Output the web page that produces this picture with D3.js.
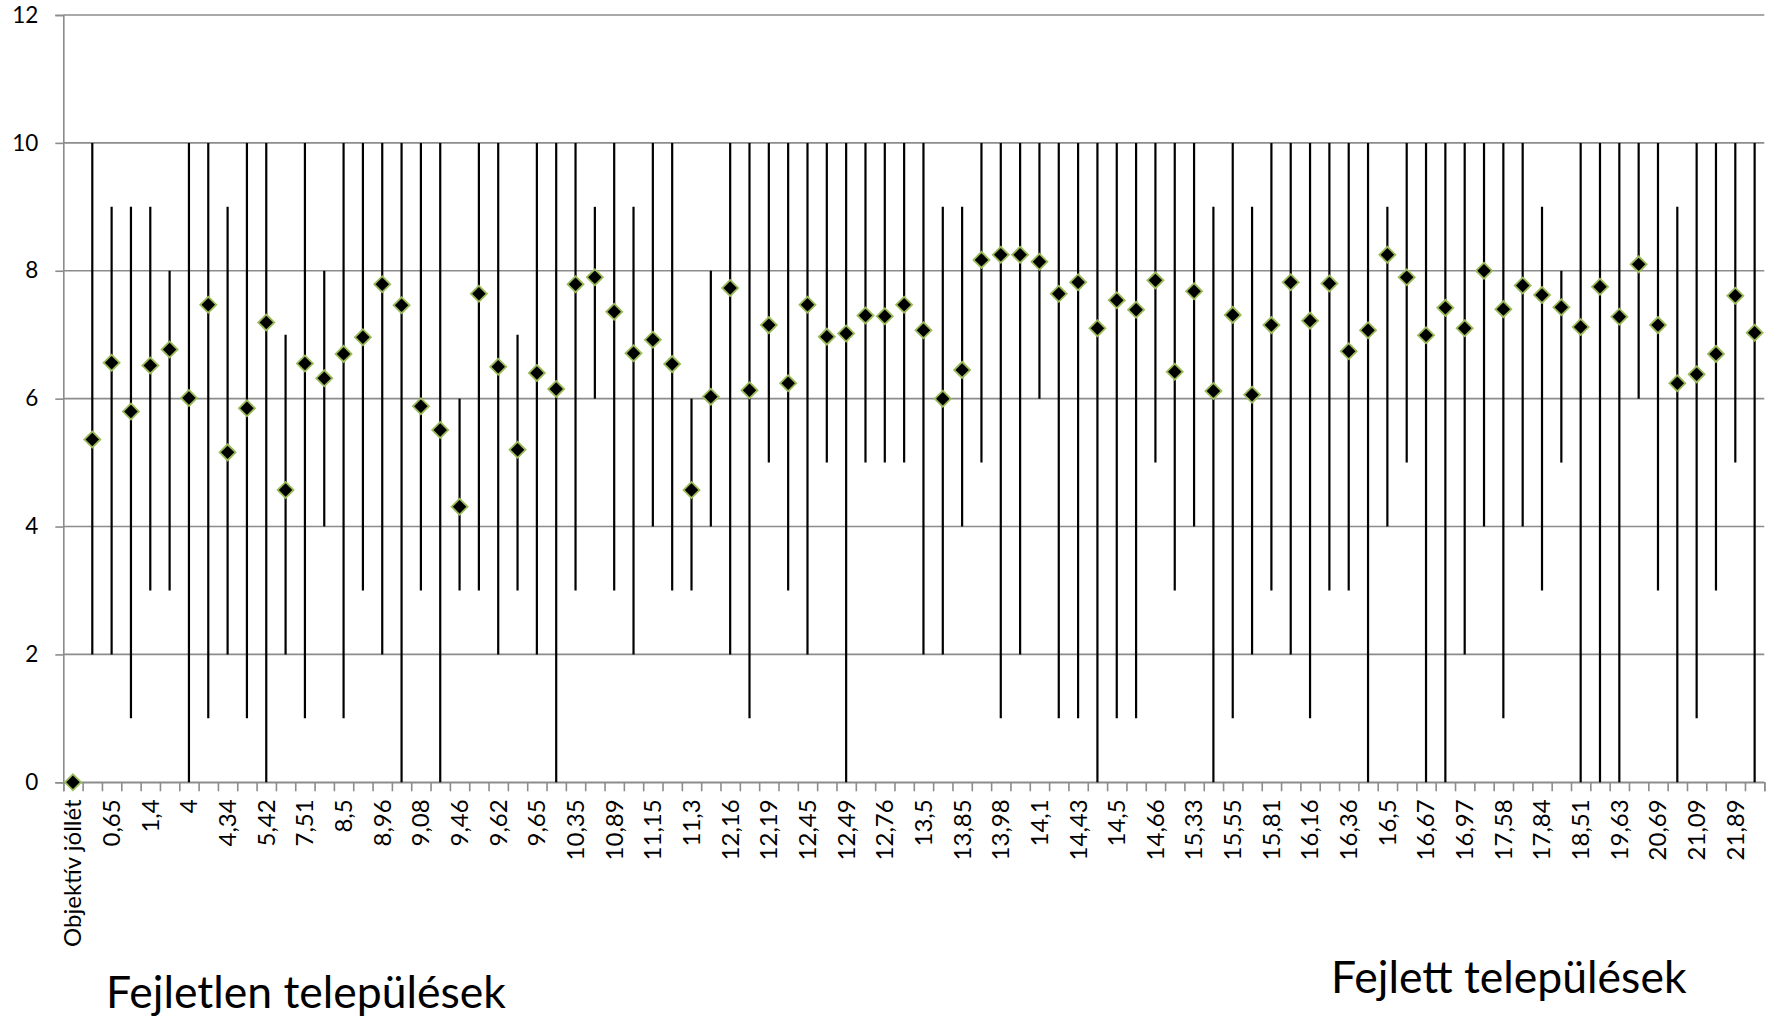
<!DOCTYPE html>
<html>
<head>
<meta charset="utf-8">
<script src="https://cdnjs.cloudflare.com/ajax/libs/d3/7.8.5/d3.min.js"></script>
<style>
  body { margin: 0; background: #fff; }
  text { font-family: Lato, "Open Sans", sans-serif; fill: #000; }
</style>
</head>
<body>
<div id="chart"></div>
<script>
// Tick labels (only every second category has a visible label)
var tickLabels = ["Objektív jóllét", "0,65", "1,4", "4", "4,34", "5,42", "7,51", "8,5", "8,96", "9,08",
  "9,46", "9,62", "9,65", "10,35", "10,89", "11,15", "11,3", "12,16", "12,19", "12,45",
  "12,49", "12,76", "13,5", "13,85", "13,98", "14,1", "14,43", "14,5", "14,66", "15,33",
  "15,55", "15,81", "16,16", "16,36", "16,5", "16,67", "16,97", "17,58", "17,84", "18,51",
  "19,63", "20,69", "21,09", "21,89"];

// Diamond values
var closeValues = [0, 5.36, 6.56, 5.80, 6.52, 6.77, 6.01, 7.47, 5.16, 5.85,
  7.19, 4.57, 6.55, 6.32, 6.70, 6.96, 7.79, 7.46, 5.88, 5.51,
  4.31, 7.64, 6.50, 5.20, 6.40, 6.15, 7.79, 7.90, 7.36, 6.71,
  6.92, 6.54, 4.57, 6.03, 7.73, 6.13, 7.15, 6.24, 7.47, 6.97,
  7.02, 7.30, 7.29, 7.47, 7.07, 6.00, 6.45, 8.17, 8.25, 8.25,
  8.14, 7.64, 7.82, 7.10, 7.54, 7.39, 7.85, 6.42, 7.68, 6.12,
  7.31, 6.06, 7.15, 7.82, 7.22, 7.80, 6.74, 7.07, 8.25, 7.90,
  6.99, 7.42, 7.10, 8.00, 7.40, 7.77, 7.62, 7.43, 7.12, 7.75,
  7.28, 8.10, 7.15, 6.24, 6.38, 6.70, 7.61, 7.03];

// High-low lines
var highValues = [null, 10, 9, 9, 9, 8, 10, 10, 9, 10,
  10, 7, 10, 8, 10, 10, 10, 10, 10, 10,
  6, 10, 10, 7, 10, 10, 10, 9, 10, 9,
  10, 10, 6, 8, 10, 10, 10, 10, 10, 10,
  10, 10, 10, 10, 10, 9, 9, 10, 10, 10,
  10, 10, 10, 10, 10, 10, 10, 10, 10, 9,
  10, 9, 10, 10, 10, 10, 10, 10, 9, 10,
  10, 10, 10, 10, 10, 10, 9, 8, 10, 10,
  10, 10, 10, 9, 10, 10, 10, 10];

var lowValues = [null, 2, 2, 1, 3, 3, 0, 1, 2, 1,
  0, 2, 1, 4, 1, 3, 2, 0, 3, 0,
  3, 3, 2, 3, 2, 0, 3, 6, 3, 2,
  4, 3, 3, 4, 2, 1, 5, 3, 2, 5,
  0, 5, 5, 5, 2, 2, 4, 5, 1, 2,
  6, 1, 1, 0, 1, 1, 5, 3, 4, 0,
  1, 2, 3, 2, 1, 3, 3, 0, 4, 5,
  0, 0, 2, 4, 1, 4, 3, 5, 0, 0,
  0, 6, 3, 0, 1, 3, 5, 0];

var yTicks = [0, 2, 4, 6, 8, 10, 12];

var groupLabels = [
  { text: "Fejletlen települések", x: 106, y: 1008 },
  { text: "Fejlett települések", x: 1331, y: 993 }
];

function drawChart() {
  var width = 1770;
  var height = 1018;
  var left = 63.3, right = 1764.3, top = 15, bottom = 782.3;
  var n = closeValues.length;

  var xScale = d3.scaleBand()
    .domain(d3.range(n))
    .range([left, right])
    .padding(0);

  // boundaries between categories, for tick marks
  var xEdges = d3.scaleLinear()
    .domain([0, n])
    .range([left, right]);

  var yScale = d3.scaleLinear()
    .domain([0, 12])
    .range([bottom, top]);

  var svg = d3.select("#chart")
    .append("svg")
    .attr("width", width)
    .attr("height", height);

  // gridlines
  svg.append("g")
    .selectAll("line")
    .data(yTicks)
    .enter()
    .append("line")
    .attr("x1", left)
    .attr("x2", right)
    .attr("y1", d => yScale(d))
    .attr("y2", d => yScale(d))
    .attr("stroke", "#8c8c8c")
    .attr("stroke-width", 1.6);

  var yAxis = d3.axisLeft(yScale).tickValues(yTicks).tickSize(8).tickPadding(17);
  var gy = svg.append("g")
    .attr("transform", "translate(" + left + ",0)")
    .call(yAxis);
  gy.selectAll("line, path").attr("stroke", "#8c8c8c").attr("stroke-width", 1.6);
  gy.selectAll("text").style("font-size", "22.5px").attr("font-family", null);

  // x axis: tick marks on category edges
  var edgeAxis = d3.axisBottom(xEdges).tickValues(d3.range(n + 1)).tickSize(9).tickFormat("");
  var gEdge = svg.append("g")
    .attr("transform", "translate(0," + bottom + ")")
    .call(edgeAxis);
  gEdge.selectAll("line, path").attr("stroke", "#8c8c8c").attr("stroke-width", 1.6);

  // x axis labels, every second category
  var xAxis = d3.axisBottom(xScale)
    .tickValues(d3.range(0, n, 2))
    .tickSize(0)
    .tickFormat(i => tickLabels[i / 2]);
  var gx = svg.append("g")
    .attr("transform", "translate(0," + bottom + ")")
    .call(xAxis);
  gx.select(".domain").remove();
  gx.selectAll("text")
    .attr("font-family", null)
    .style("font-size", "24px")
    .attr("text-anchor", "end")
    .attr("y", 0)
    .attr("dy", "0.35em")
    .attr("transform", "translate(0,17) rotate(-90)");

  // high-low lines
  var rows = d3.range(n).filter(i => highValues[i] != null);
  svg.append("g")
    .selectAll("line")
    .data(rows)
    .enter()
    .append("line")
    .attr("x1", i => xScale(i) + xScale.bandwidth() / 2)
    .attr("x2", i => xScale(i) + xScale.bandwidth() / 2)
    .attr("y1", i => yScale(highValues[i]))
    .attr("y2", i => yScale(lowValues[i]))
    .attr("stroke", "#000")
    .attr("stroke-width", 2.2);

  // diamonds
  var diamond = d3.symbol().type(d3.symbolSquare).size(128);
  svg.append("g")
    .selectAll("path")
    .data(closeValues)
    .enter()
    .append("path")
    .attr("d", diamond)
    .attr("transform", (d, i) => "translate(" + (xScale(i) + xScale.bandwidth() / 2) + "," + yScale(d) + ") rotate(45)")
    .attr("fill", "#000")
    .attr("stroke", "#9bbb59")
    .attr("stroke-width", 1.8);

  svg.append("g")
    .selectAll("text")
    .data(groupLabels)
    .enter()
    .append("text")
    .attr("x", d => d.x)
    .attr("y", d => d.y)
    .style("font-size", "44.5px")
    .text(d => d.text);
}

drawChart();
</script>
</body>
</html>
